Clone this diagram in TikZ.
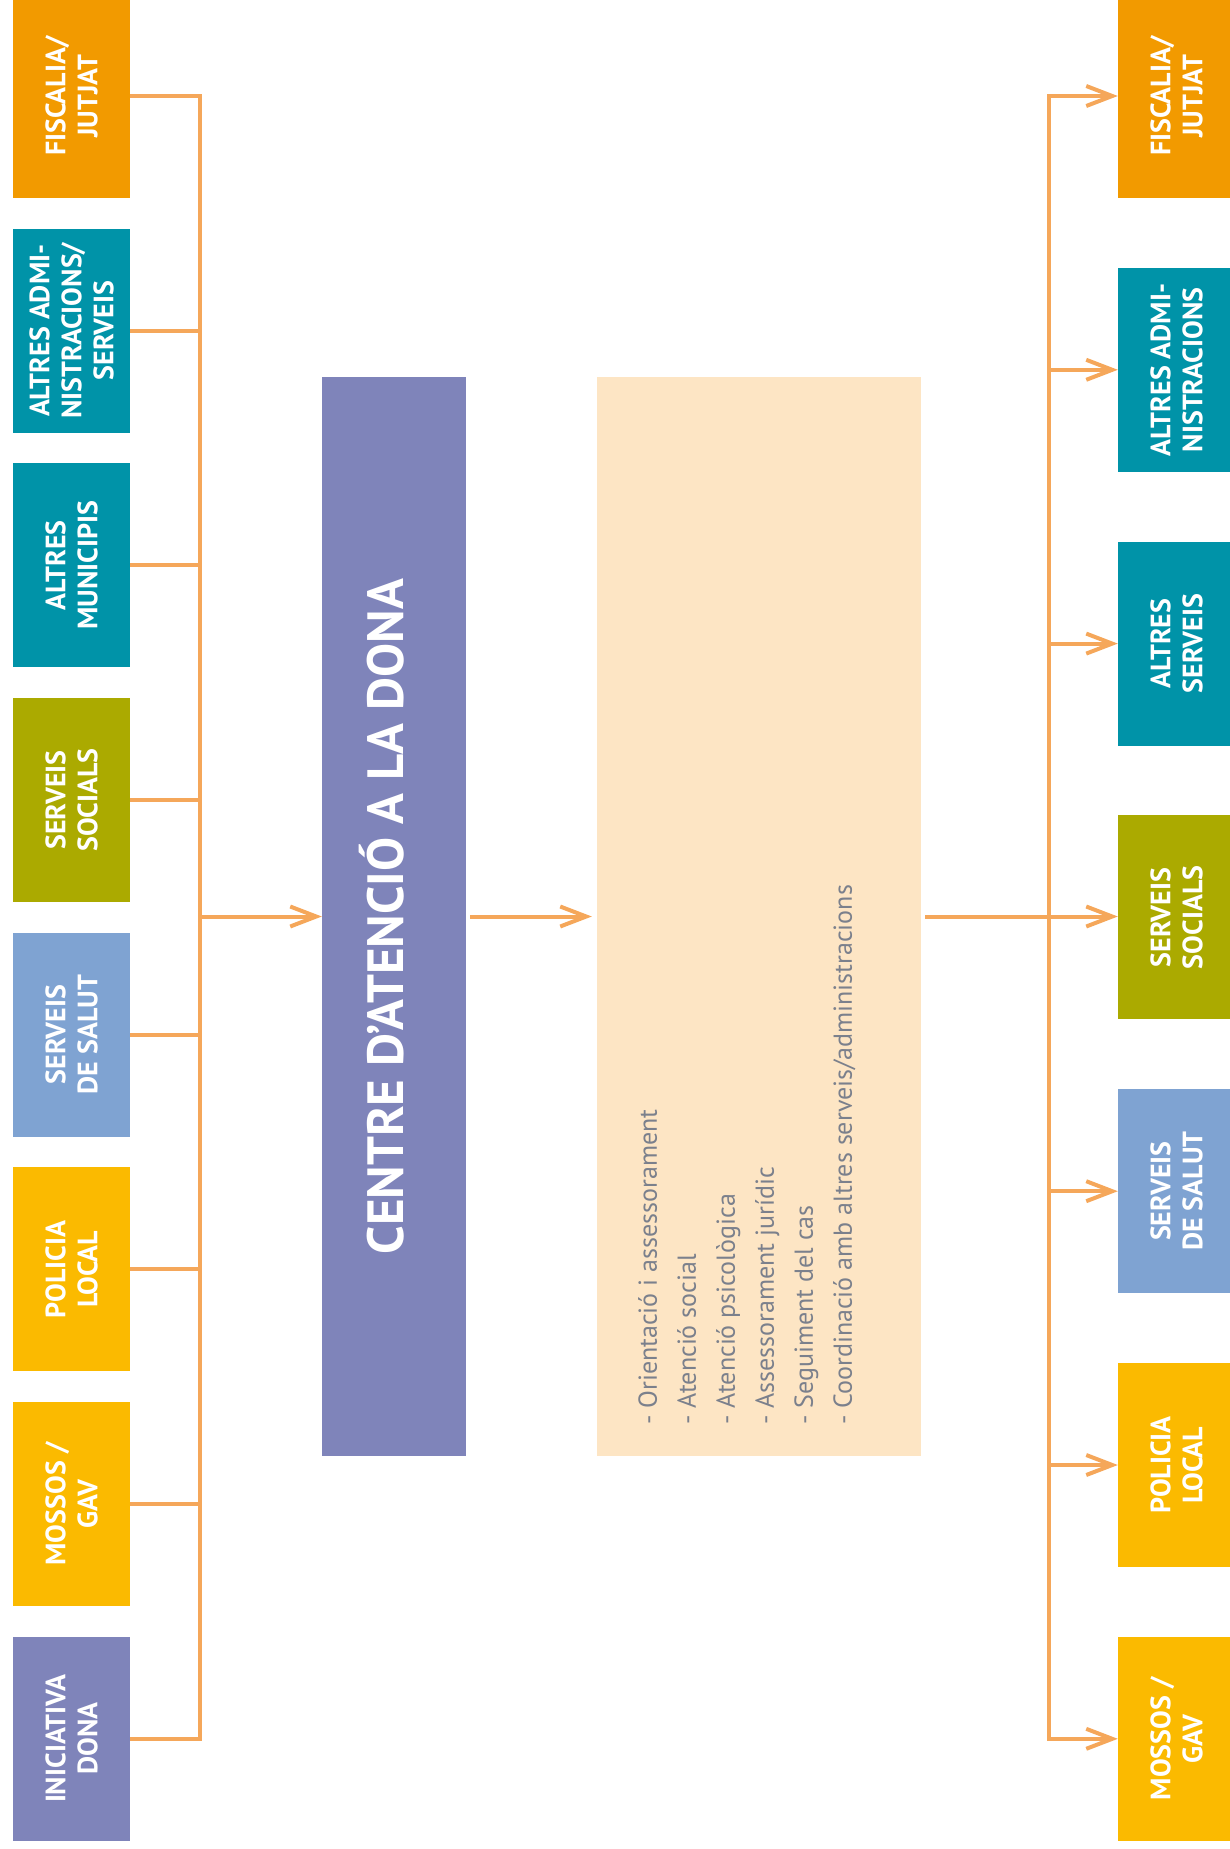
\documentclass[tikz,border=0pt]{standalone}
\usepackage{fontspec}
\setmainfont{PT Sans}
\usepackage{tikz}
\usetikzlibrary{positioning,arrows.meta}

\definecolor{taronja}{HTML}{F29A00}
\definecolor{turq}{HTML}{0093A8}
\definecolor{oliva}{HTML}{ABAA00}
\definecolor{blau}{HTML}{7FA3D2}
\definecolor{groc}{HTML}{FBBA00}
\definecolor{lila}{HTML}{7F84BA}
\definecolor{crema}{HTML}{FDE5C4}
\definecolor{linia}{HTML}{F5A75A}
\definecolor{gris}{HTML}{7B808C}

\begin{document}
\begin{tikzpicture}[x=1pt,y=-1pt,
    box/.style={rectangle,rotate=90,inner sep=0pt,minimum width=204pt,minimum height=117pt,
      text=white,align=center,font=\bfseries\fontsize{28}{32}\selectfont},
    link/.style={draw=linia,line width=4pt},
    arr/.style={link,-{Straight Barb[length=26pt,width=20pt]}}]
  \useasboundingbox (0,0) rectangle (1230,1849);

  % left column
  \node[box,fill=taronja] (fiscL) at (71.5,96) {FISCALIA/\\JUTJAT};
  \node[box,fill=turq] (admL) at (71.5,330.7) {ALTRES ADMI-\\NISTRACIONS/\\SERVEIS};
  \node[box,fill=turq] (munL) at (71.5,565.3) {ALTRES\\MUNICIPIS};
  \node[box,fill=oliva] (socL) at (71.5,800) {SERVEIS\\SOCIALS};
  \node[box,fill=blau] (salL) at (71.5,1034.7) {SERVEIS\\DE SALUT};
  \node[box,fill=groc] (polL) at (71.5,1269.3) {POLICIA\\LOCAL};
  \node[box,fill=groc] (mosL) at (71.5,1504) {MOSSOS /\\GAV};
  \node[box,fill=lila] (donL) at (71.5,1738.7) {INICIATIVA\\DONA};
  \coordinate (busL) at (200,0);

  % centre
  \node[rectangle,rotate=90,inner sep=0pt,minimum width=1079pt,minimum height=144pt,fill=lila,
    text height=36pt,text depth=18pt,
    text=white,font=\bfseries\fontsize{51}{51}\selectfont] (cad) at (394,916.5) {CENTRE D’ATENCIÓ A LA DONA};
  \node[rectangle,rotate=90,inner sep=0pt,minimum width=1079pt,minimum height=324pt,fill=crema] (serv) at (759,916.5) {};
  \node[rotate=90,inner sep=0pt,anchor=north west,align=left,text=gris,
    font=\fontsize{26}{39}\selectfont] (llista) at (638,1425)
    {- Orientació i assessorament\\- Atenció social\\- Atenció psicològica\\- Assessorament jurídic\\- Seguiment del cas\\- Coordinació amb altres serveis/administracions};

  % right column
  \node[box,fill=taronja] (fiscR) at (1176.5,96) {FISCALIA/\\JUTJAT};
  \node[box,fill=turq] (admR) at (1176.5,369.8) {ALTRES ADMI-\\NISTRACIONS};
  \node[box,fill=turq] (altR) at (1176.5,643.6) {ALTRES\\SERVEIS};
  \node[box,fill=oliva] (socR) at (1176.5,917.4) {SERVEIS\\SOCIALS};
  \node[box,fill=blau] (salR) at (1176.5,1191.2) {SERVEIS\\DE SALUT};
  \node[box,fill=groc] (polR) at (1176.5,1465) {POLICIA\\LOCAL};
  \node[box,fill=groc] (mosR) at (1176.5,1738.8) {MOSSOS /\\GAV};
  \coordinate (busR) at (1049,0);

  % connectors
  \draw[link] (fiscL.south) -- (fiscL.south -| busL) -- (donL.south -| busL) -- (donL.south);
  \draw[link] (admL.south) -- (admL.south -| busL);
  \draw[link] (munL.south) -- (munL.south -| busL);
  \draw[link] (socL.south) -- (socL.south -| busL);
  \draw[link] (salL.south) -- (salL.south -| busL);
  \draw[link] (polL.south) -- (polL.south -| busL);
  \draw[link] (mosL.south) -- (mosL.south -| busL);
  \draw[arr] (cad.north -| busL) -- (cad.north);
  \draw[arr,shorten <=4pt,shorten >=5pt] (cad.south) -- (serv.north);
  \draw[arr,shorten <=4pt] (serv.south) -- (serv.south -| socR.north);
  \draw[link,{Straight Barb[length=26pt,width=20pt]}-{Straight Barb[length=26pt,width=20pt]}]
    (fiscR.north) -- (fiscR.north -| busR) -- (mosR.north -| busR) -- (mosR.north);
  \draw[arr] (admR.north -| busR) -- (admR.north);
  \draw[arr] (altR.north -| busR) -- (altR.north);
  \draw[arr] (salR.north -| busR) -- (salR.north);
  \draw[arr] (polR.north -| busR) -- (polR.north);
\end{tikzpicture}
\end{document}
